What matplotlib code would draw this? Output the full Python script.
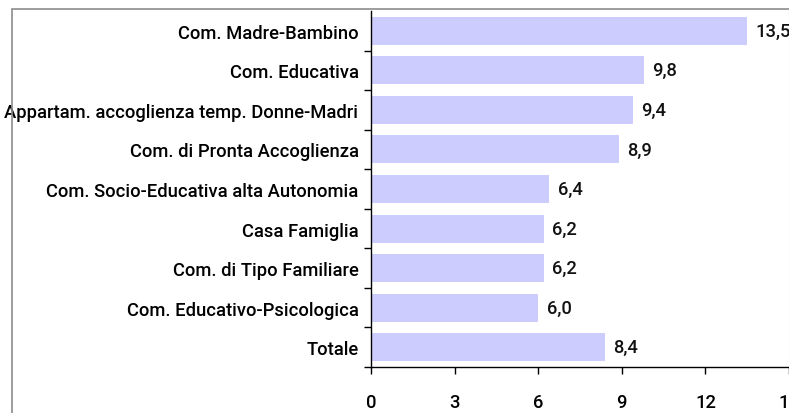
import matplotlib.pyplot as plt
from matplotlib.patches import Rectangle

categories = [
    "Com. Madre-Bambino",
    "Com. Educativa",
    "Appartam. accoglienza temp. Donne-Madri",
    "Com. di Pronta Accoglienza",
    "Com. Socio-Educativa alta Autonomia",
    "Casa Famiglia",
    "Com. di Tipo Familiare",
    "Com. Educativo-Psicologica",
    "Totale",
]
values = [13.5, 9.8, 9.4, 8.9, 6.4, 6.2, 6.2, 6.0, 8.4]
xticks = [0, 3, 6, 9, 12, 15]

plt.rcParams['font.family'] = ['Roboto', 'DejaVu Sans']
FS = 13.2
FW = 'medium'

fig = plt.figure(figsize=(7.89, 4.14), dpi=100)

# chart area border (grey)
fig.patches.append(Rectangle((12 / 789, -0.1), 1.2, 1.1 - 10 / 414, transform=fig.transFigure,
                             fill=False, edgecolor='#8c8c8c', linewidth=1.2))

ax = fig.add_axes([371 / 789, 1 - 368 / 414, 418 / 789, 356 / 414])

n = len(categories)
pos = list(range(n))
ax.barh(pos, values, height=0.71, color='#ccccff', edgecolor='none')
ax.set_ylim(n - 0.5, -0.5)
ax.set_xlim(0, 15)

for p, v in zip(pos, values):
    ax.text(v + 0.3, p, f"{v:.1f}".replace('.', ','), va='center', ha='left',
            fontsize=FS, fontweight=FW, color='#111111')

# tick marks between categories, labels centred on the bars
ax.set_yticks([i - 0.5 for i in range(1, n + 1)])
ax.set_yticklabels([])
ax.set_yticks(pos, minor=True)
ax.set_yticklabels(categories, minor=True)
ax.tick_params(axis='y', which='minor', length=0, pad=9, labelsize=FS)
ax.tick_params(axis='y', which='major', length=5, width=1, direction='out')
for lab in ax.get_yticklabels(minor=True):
    lab.set_fontweight(FW)

ax.set_xticks(xticks)
ax.tick_params(axis='x', length=5, width=1, direction='out', pad=14, labelsize=FS)
for lab in ax.get_xticklabels():
    lab.set_fontweight(FW)

ax.spines['top'].set_visible(False)
ax.spines['right'].set_color('#bbbbbb')
ax.spines['left'].set_linewidth(1)
ax.spines['bottom'].set_linewidth(1)

fig.savefig('out.png', dpi=100)
